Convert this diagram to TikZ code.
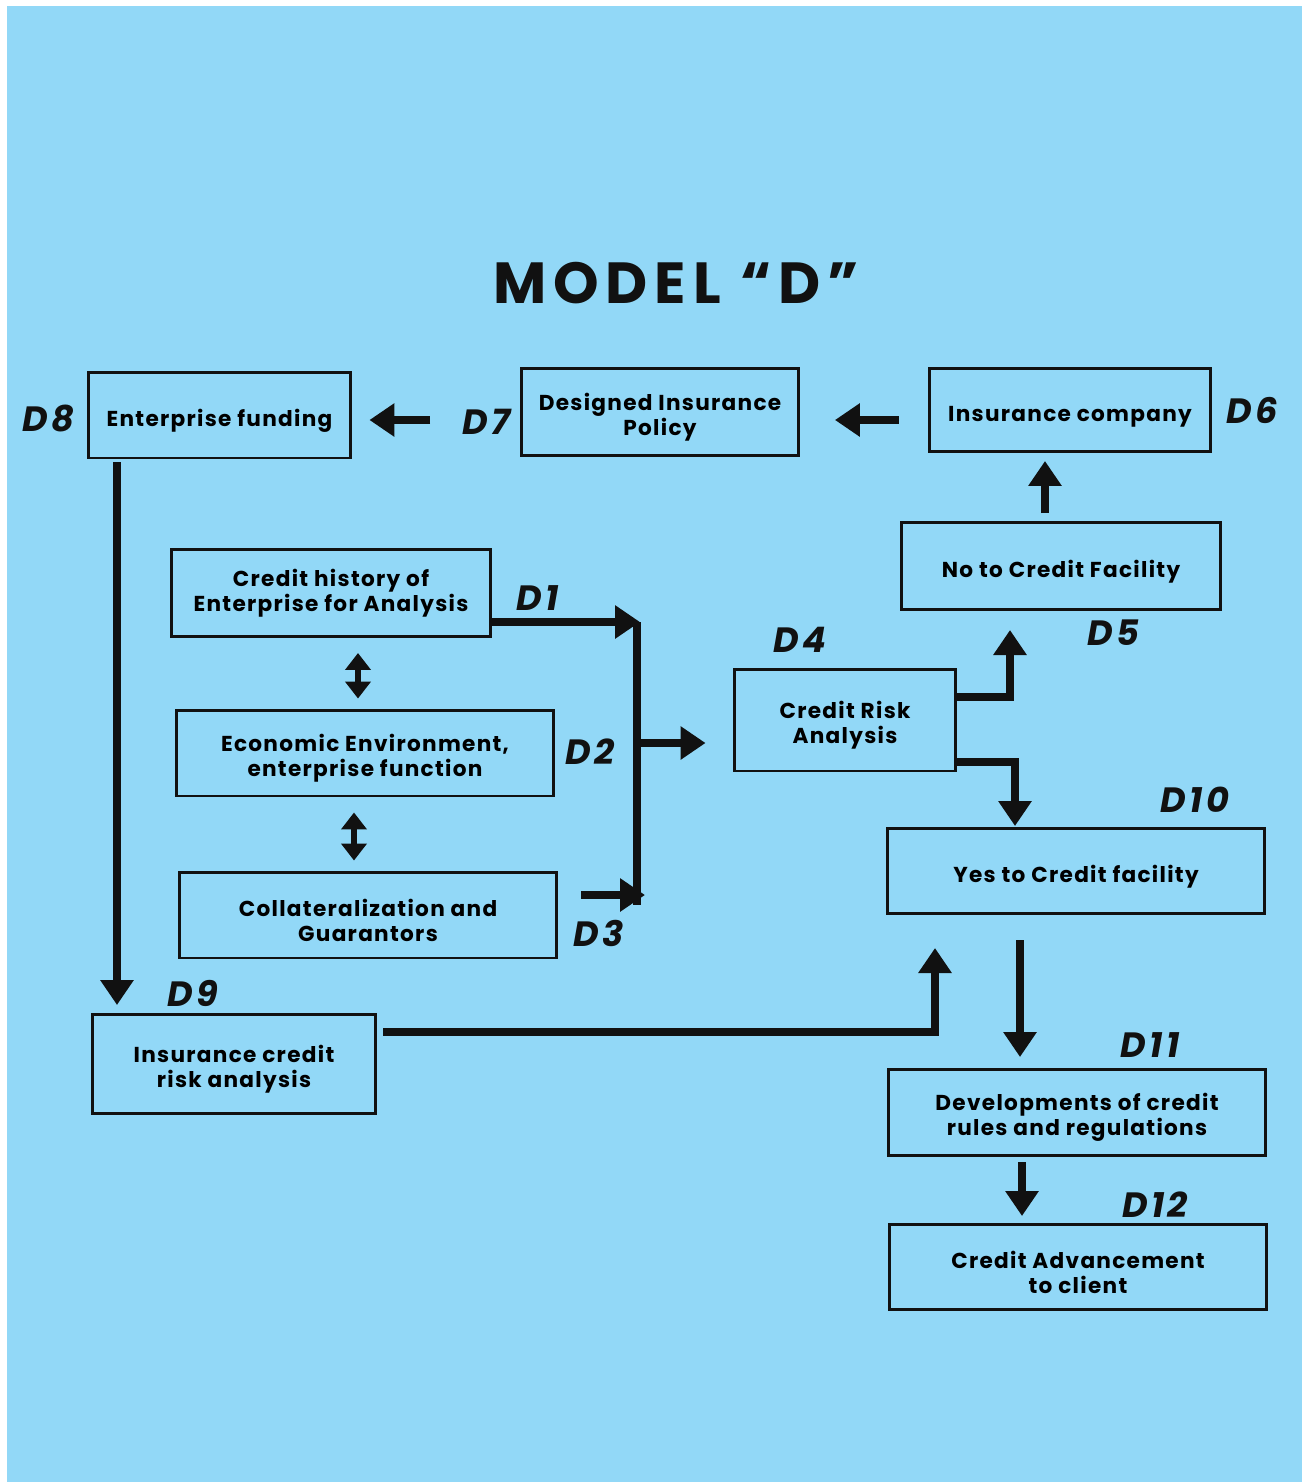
\documentclass[tikz,border=0pt]{standalone}
\usepackage{fontspec}
\setmainfont{Poppins}
\newfontfamily\boxfont{Poppins}[LetterSpace=6]
\newfontfamily\headfont{Poppins}[LetterSpace=12]
\newfontfamily\tagfont{Poppins}[LetterSpace=10]
\usetikzlibrary{arrows.meta,positioning}
\definecolor{mdsky}{HTML}{92D8F7}
\definecolor{mdink}{HTML}{111111}
\newcommand{\lift}{\rule{0pt}{16pt}}

\begin{document}
\begin{tikzpicture}[
        x=0.02cm, y=-0.02cm,
        font=\boxfont\fontsize{12.3}{14.2}\selectfont\bfseries,
        box/.style={draw=mdink, line width=1.7pt, align=center, inner sep=2pt},
        tag/.style={font=\tagfont\fontsize{20}{20}\selectfont\bfseries\itshape, text=mdink},
        fat/.style={-{Triangle[length=0.5cm, width=0.64cm]}, line width=5pt, mdink},
        bar/.style={line width=5pt, mdink},
        both/.style={{Triangle[length=0.34cm, width=0.5cm]}-{Triangle[length=0.34cm, width=0.5cm]},
                     line width=3.4pt, mdink}
    ]
        % page and background
        \useasboundingbox (0,0) rectangle (1304,1482);
        \fill[white] (0,0) rectangle (1304,1482);
        \fill[mdsky] (7,6) rectangle (1302,1482);

        \node[font=\headfont\fontsize{33}{33}\selectfont\bfseries, text=mdink] (title) at (676,283) {MODEL “D”};

        % boxes
        \node[box, minimum width=5.26cm, minimum height=1.72cm] (d8) at (219.5,415) {\lift Enterprise funding};
        \node[box, minimum width=5.54cm, minimum height=1.74cm] (d7) at (660,412) {\lift Designed Insurance\\Policy};
        \node[box, minimum width=5.64cm, minimum height=1.66cm] (d6) at (1070,410) {\lift Insurance company};
        \node[box, minimum width=6.38cm, minimum height=1.74cm] (d5) at (1061,566) {\lift No to Credit Facility};
        \node[box, minimum width=6.38cm, minimum height=1.74cm] (d1) at (331,593) {Credit history of\\Enterprise for Analysis};
        \node[box, minimum width=7.56cm, minimum height=1.72cm] (d2) at (365,753) {\lift Economic Environment,\\enterprise function};
        \node[box, minimum width=7.56cm, minimum height=1.72cm] (d3) at (368,915) {\lift Collateralization and\\Guarantors};
        \node[box, minimum width=4.44cm, minimum height=2.04cm] (d4) at (845,720) {\lift Credit Risk\\Analysis};
        \node[box, minimum width=7.56cm, minimum height=1.70cm] (d10) at (1076,871) {\lift Yes to Credit facility};
        \node[box, minimum width=5.68cm, minimum height=1.98cm] (d9) at (234,1064) {\lift Insurance credit\\risk analysis};
        \node[box, minimum width=7.56cm, minimum height=1.72cm] (d11) at (1077,1112) {\lift Developments of credit\\rules and regulations};
        \node[box, minimum width=7.56cm, minimum height=1.70cm] (d12) at (1078,1267) {\lift Credit Advancement\\to client};

        % tags
        \node[tag] (t8) at (48,418) {D8};
        \node[tag] (t7) at (486,422) {D7};
        \node[tag] (t6) at (1252,410) {D6};
        \node[tag] (t5) at (1113,633) {D5};
        \node[tag] (t1) at (538,598) {D1};
        \node[tag] (t4) at (800,640) {D4};
        \node[tag] (t2) at (590,752) {D2};
        \node[tag] (t3) at (599,933) {D3};
        \node[tag] (t10) at (1195,800) {D10};
        \node[tag] (t9) at (193,993) {D9};
        \node[tag] (t11) at (1150,1045) {D11};
        \node[tag] (t12) at (1155,1205) {D12};

        % junction points
        \coordinate (jtop) at (637,622);
        \coordinate (jmid) at (637,743);
        \coordinate (jbot) at (637,895);
        \coordinate (a4u) at (956,697);
        \coordinate (a5) at (1010,630);
        \coordinate (a4d) at (956,762);
        \coordinate (a10) at (1015,826);
        \coordinate (a8) at (117,462);
        \coordinate (a9) at (117,1005);
        \coordinate (a9r) at (383,1032);
        \coordinate (a10b) at (935,948);
        \coordinate (a10s) at (1020,940);
        \coordinate (a11) at (1020,1057);
        \coordinate (a11s) at (1022,1162);
        \coordinate (a12) at (1022,1216);
        \coordinate (a6) at (1045,513);

        % arrows
        \draw[fat, shorten <=1.8cm, shorten >=0.34cm] (d7.west |- 0,420) -- (d8.east |- 0,420);
        \draw[fat, shorten <=0.58cm, shorten >=0.7cm] (d6.west |- 0,420) -- (d7.east |- 0,420);
        \draw[fat, shorten >=0.16cm] (a6) -- (a6 |- d6.south);
        \draw[fat] (d1.east |- jtop) -- ([xshift=0.06cm]jtop);
        \draw[bar] (jtop) -- ([yshift=-0.2cm]jbot);
        \draw[fat, shorten <=0.46cm] (d3.east |- jbot) -- ([xshift=0.16cm]jbot);
        \draw[fat, shorten >=0.54cm] (jmid) -- (jmid -| d4.west);
        \draw[fat] (a4u) -| (a5);
        \draw[fat] (a4d) -| (a10);
        \draw[fat] (a8) -- (a9);
        \draw[fat] (a9r) -| (a10b);
        \draw[fat] (a10s) -- (a11);
        \draw[fat] (a11s) -- (a12);
        \draw[both, shorten <=0.3cm, shorten >=0.2cm] (d1.south -| 358,0) -- (d2.north -| 358,0);
        \draw[both, shorten <=0.3cm, shorten >=0.2cm] (d2.south -| 354,0) -- (d3.north -| 354,0);
\end{tikzpicture}
\end{document}
